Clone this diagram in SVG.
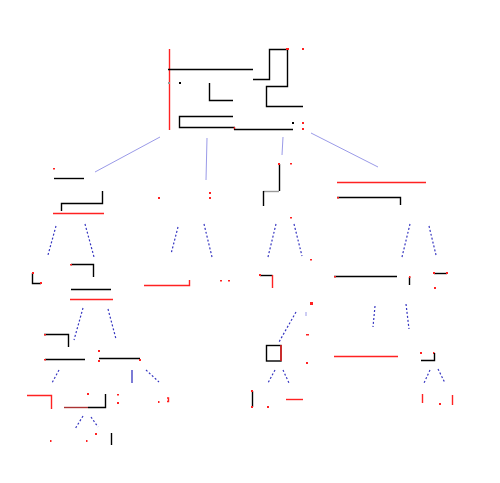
<svg xmlns="http://www.w3.org/2000/svg" width="500" height="483" viewBox="0 0 500 483">
<style>
.k{fill:none;stroke:#000;stroke-width:1.4}
.r{fill:none;stroke:#f22;stroke-width:1.4}
.g{fill:none;stroke:#999;stroke-width:1.4}
.dr{fill:none;stroke:#a33;stroke-width:1.4}
.rd{fill:#f22}
.kd{fill:#000}
.e1{fill:none;stroke:#9a9ae8;stroke-width:1}
.e2{fill:none;stroke:#3535c0;stroke-width:1.2;stroke-dasharray:2 2}
.e3{fill:none;stroke:#3535c0;stroke-width:1.3}
</style>
<rect width="500" height="483" fill="#fff"/>
<g id="connectors">
<line class="e1" x1="160" y1="137" x2="95" y2="172"/>
<line class="e1" x1="207" y1="138" x2="206" y2="180"/>
<line class="e1" x1="283" y1="137" x2="282" y2="155"/>
<line class="e1" x1="311" y1="133" x2="378" y2="167"/>
<line class="e2" x1="56" y1="226" x2="48" y2="255"/>
<line class="e2" x1="85" y1="224" x2="94" y2="257"/>
<line class="e2" x1="178" y1="227" x2="171" y2="254"/>
<line class="e2" x1="204" y1="224" x2="212" y2="257"/>
<line class="e2" x1="276" y1="224" x2="268" y2="257"/>
<line class="e2" x1="294" y1="224" x2="302" y2="256"/>
<line class="e2" x1="410" y1="224" x2="402" y2="257"/>
<line class="e2" x1="429" y1="226" x2="436" y2="255"/>
<line class="e2" x1="83" y1="308" x2="74" y2="340"/>
<line class="e2" x1="108" y1="309" x2="116" y2="339"/>
<line class="e2" x1="375" y1="306" x2="373" y2="327"/>
<line class="e2" x1="406" y1="304" x2="409" y2="329"/>
<line class="e2" x1="296" y1="312" x2="279" y2="342"/>
<line class="e2" x1="59" y1="370" x2="52" y2="383"/>
<line class="e3" x1="132" y1="370" x2="132" y2="383"/>
<line class="e2" x1="146" y1="370" x2="159" y2="382"/>
<line class="e2" x1="275" y1="370" x2="268" y2="383"/>
<line class="e2" x1="283" y1="370" x2="289" y2="383"/>
<line class="e2" x1="430" y1="370" x2="424" y2="383"/>
<line class="e2" x1="438" y1="369" x2="445" y2="383"/>
<line class="e2" x1="83" y1="416" x2="75" y2="429"/>
<line class="e2" x1="91" y1="417" x2="98" y2="427"/>
<line class="e1" x1="306" y1="312" x2="306" y2="316"/>
</g>
<g id="root">
<line class="r" x1="169.5" y1="49" x2="169.5" y2="130"/>
<line class="k" x1="168" y1="69.5" x2="253" y2="69.5"/>
<rect class="kd" x="179" y="82" width="2" height="2"/>
<rect fill="#999" x="168" y="82" width="2" height="2"/>
<polyline class="k" points="209.5,83 209.5,100.5 233,100.5"/>
<polyline class="k" points="235,127.5 179.5,127.5 179.5,116.5 233,116.5"/>
<polyline class="r" points="234.5,127 234.5,130"/>
<line class="k" x1="234" y1="129.5" x2="293" y2="129.5"/>
<polyline class="k" points="253,79.5 269.5,79.5 269.5,49.5 287.5,49.5 287.5,86.5 266.5,86.5 266.5,106.5 303,106.5"/>
<rect class="rd" x="286" y="48" width="3" height="2"/>
<rect class="rd" x="302" y="48" width="2" height="2"/>
<rect class="kd" x="292" y="122" width="2" height="2"/>
<rect class="rd" x="302" y="122" width="2" height="2"/>
<rect class="rd" x="302" y="128" width="2" height="2"/>
</g>
<g id="n1">
<rect class="rd" x="53" y="168" width="2" height="1.5"/>
<line class="k" x1="54" y1="178.5" x2="84" y2="178.5"/>
<polyline class="k" points="102.5,191 102.5,203.5 61.5,203.5 61.5,211"/>
<line class="r" x1="53" y1="213.5" x2="104" y2="213.5"/>
</g>
<g id="n2">
<rect class="rd" x="158" y="197" width="2" height="2"/>
<rect class="rd" x="209" y="192" width="2" height="2"/>
<rect class="rd" x="209" y="197" width="2" height="2"/>
</g>
<g id="n3">
<line class="k" x1="279.5" y1="164" x2="279.5" y2="191"/>
<rect class="rd" x="278" y="163" width="2" height="2"/>
<rect class="rd" x="290" y="163" width="2" height="1.5"/>
<line class="g" x1="263" y1="191.5" x2="279" y2="191.5"/>
<line class="k" x1="263.5" y1="191" x2="263.5" y2="206"/>
</g>
<g id="n4">
<line class="r" x1="337" y1="182.5" x2="426" y2="182.5"/>
<polyline class="k" points="337,197.5 400.5,197.5 400.5,205"/>
<rect class="rd" x="337" y="197" width="2" height="1.5"/>
</g>
<g id="n11">
<polyline class="k" points="32.5,273 32.5,283.5 41,283.5"/>
<rect class="rd" x="32" y="272" width="2" height="2"/>
<rect class="rd" x="40" y="282" width="2" height="2"/>
</g>
<g id="n12">
<polyline class="k" points="71,264.5 93.5,264.5 93.5,277"/>
<rect class="rd" x="70" y="264" width="2" height="1.5"/>
<line class="k" x1="71" y1="289.5" x2="111" y2="289.5"/>
<line class="r" x1="70" y1="299.5" x2="113" y2="299.5"/>
</g>
<g id="n21">
<polyline class="r" points="144,285.5 189.5,285.5 189.5,280"/>
</g>
<g id="n22">
<rect class="rd" x="220" y="280" width="2" height="1.5"/>
<rect class="rd" x="228" y="280" width="2" height="1.5"/>
</g>
<g id="n31">
<rect class="rd" x="290" y="217" width="2" height="1.5"/>
<polyline class="k" points="260,275.5 272.5,275.5"/>
<line class="r" x1="272.5" y1="275" x2="272.5" y2="288"/>
<rect class="rd" x="259" y="274" width="2" height="2"/>
</g>
<g id="n32">
<rect class="rd" x="310" y="259" width="2" height="1.5"/>
<rect class="rd" x="310" y="302" width="3" height="3"/>
</g>
<g id="n41">
<line class="k" x1="334" y1="276.5" x2="397" y2="276.5"/>
<rect class="rd" x="334" y="276" width="2" height="1.5"/>
<line class="k" x1="409.5" y1="277" x2="409.5" y2="285"/>
<rect class="rd" x="409" y="276" width="1.5" height="2"/>
</g>
<g id="n42">
<line class="k" x1="434" y1="273.5" x2="447" y2="273.5"/>
<rect class="rd" x="433" y="272" width="2" height="2"/>
<rect class="rd" x="446" y="272" width="2" height="2"/>
<rect class="rd" x="434" y="287" width="2" height="2"/>
</g>
<g id="n121">
<polyline class="k" points="44,334.5 68.5,334.5 68.5,347"/>
<rect class="rd" x="44" y="334" width="2" height="1.5"/>
<line class="k" x1="45" y1="359.5" x2="85" y2="359.5"/>
<rect class="rd" x="44" y="359" width="2" height="1.5"/>
</g>
<g id="n122">
<rect class="rd" x="98" y="350" width="2" height="2"/>
<rect class="rd" x="98" y="360" width="2" height="2"/>
<line class="k" x1="99" y1="358.5" x2="140" y2="358.5"/>
<rect class="rd" x="139" y="359" width="2" height="2"/>
</g>
<g id="n321">
<rect class="rd" x="306" y="334" width="3" height="1.5"/>
<rect class="k" x="266.5" y="345.5" width="14.5" height="15.5"/>
<line class="r" x1="281" y1="345" x2="281" y2="361"/>
<rect class="rd" x="306" y="362" width="2" height="2"/>
</g>
<g id="n411">
<line class="r" x1="334" y1="356.5" x2="398" y2="356.5"/>
</g>
<g id="n421">
<rect class="rd" x="420" y="352" width="2" height="2"/>
<rect class="rd" x="433" y="352" width="1.5" height="2"/>
<polyline class="k" points="421,360.5 434.5,360.5 434.5,353"/>
</g>
<g id="n1211">
<polyline class="r" points="27,395.5 51.5,395.5 51.5,409"/>
</g>
<g id="n1212">
<rect class="rd" x="87" y="393" width="2" height="2"/>
<line class="dr" x1="64" y1="407.5" x2="88" y2="407.5"/>
<polyline class="k" points="88,407.5 105.5,407.5 105.5,394"/>
<rect class="rd" x="117" y="394" width="2" height="1.5"/>
<rect class="rd" x="117" y="402" width="2" height="2"/>
</g>
<g id="n1221">
<rect class="rd" x="158" y="401" width="1.5" height="2"/>
<polyline class="r" points="167,398 168.5,398 168.5,401.5 167,401.5"/>
</g>
<g id="n3211">
<line class="k" x1="252.5" y1="391" x2="252.5" y2="407"/>
<rect class="rd" x="251" y="390" width="2" height="2"/>
<rect class="rd" x="251" y="406" width="2" height="2"/>
<rect class="rd" x="267" y="406" width="2" height="2"/>
</g>
<g id="n3212">
<line class="r" x1="286" y1="399.5" x2="303" y2="399.5"/>
</g>
<g id="n4211">
<line class="r" x1="422.5" y1="394" x2="422.5" y2="403"/>
<rect class="rd" x="439" y="403" width="2" height="2"/>
<line class="r" x1="452.5" y1="395" x2="452.5" y2="405"/>
</g>
<g id="n12121">
<rect class="rd" x="50" y="440" width="1.5" height="2"/>
<rect class="rd" x="86" y="440" width="1.5" height="2"/>
<rect class="rd" x="95" y="433" width="2" height="2"/>
<line class="k" x1="111.5" y1="433" x2="111.5" y2="445"/>
</g>
</svg>
